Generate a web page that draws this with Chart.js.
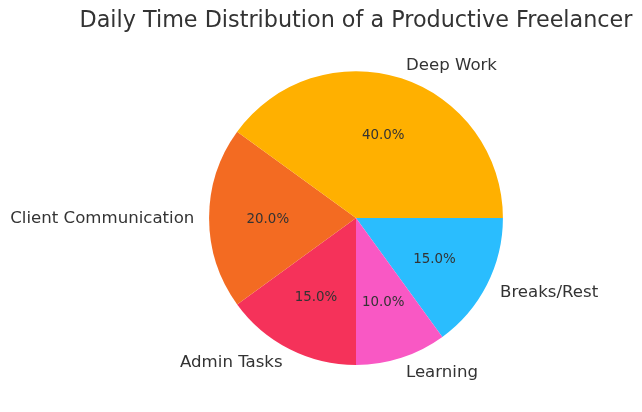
<!DOCTYPE html>
<html>
<head>
<meta charset="utf-8">
<script src="https://cdn.jsdelivr.net/npm/chart.js@4.4.0/dist/chart.umd.min.js"></script>
<style>
  html, body { margin: 0; padding: 0; background: #ffffff; }
  #wrap { width: 642px; height: 412px; }
</style>
</head>
<body>
<div id="wrap"><canvas id="c" width="642" height="412"></canvas></div>
<script>
const categories = ['Deep Work', 'Client Communication', 'Admin Tasks', 'Learning', 'Breaks/Rest'];
const hours = [40, 20, 15, 10, 15];
const colors = ['#FFB000', '#F36B22', '#F5325A', '#F958C4', '#2ABDFE'];
const titleText = 'Daily Time Distribution of a Productive Freelancer';

// matplotlib draws counter-clockwise from 3 o'clock; Chart.js draws clockwise,
// so the order is reversed and rotation starts at 3 o'clock.
const order = categories.map((_, i) => i).reverse();
const total = hours.reduce((a, b) => a + b, 0);

const labelPlugin = {
  id: 'pieLabels',
  afterDatasetsDraw(chart) {
    const ctx = chart.ctx;
    const meta = chart.getDatasetMeta(0);
    ctx.save();
    meta.data.forEach((arc, i) => {
      const p = arc.getProps(['x', 'y', 'startAngle', 'endAngle', 'outerRadius'], true);
      const mid = (p.startAngle + p.endAngle) / 2;
      const cx = Math.cos(mid), cy = Math.sin(mid);
      const idx = order[i];
      // outer category label
      ctx.font = '16.6px "DejaVu Sans"';
      ctx.fillStyle = '#333333';
      ctx.textBaseline = 'middle';
      ctx.textAlign = cx >= 0 ? 'left' : 'right';
      ctx.fillText(categories[idx], p.x + 1.1 * p.outerRadius * cx, p.y + 1.1 * p.outerRadius * cy + 1);
      // percentage
      ctx.font = '13.4px "DejaVu Sans"';
      ctx.fillStyle = '#333333';
      ctx.textAlign = 'center';
      const pct = (hours[idx] / total * 100).toFixed(1) + '%';
      ctx.fillText(pct, p.x + 0.6 * p.outerRadius * cx, p.y + 0.6 * p.outerRadius * cy + 1);
    });
    ctx.restore();
  }
};

new Chart(document.getElementById('c'), {
  type: 'pie',
  data: {
    labels: order.map(i => categories[i]),
    datasets: [{
      data: order.map(i => hours[i]),
      backgroundColor: order.map(i => colors[i]),
      borderWidth: 0,
      offset: 0,
      hoverOffset: 0
    }]
  },
  options: {
    responsive: false,
    animation: false,
    rotation: 90,
    layout: { padding: { left: 70, right: 0, top: 0, bottom: 47 } },
    plugins: {
      legend: { display: false },
      tooltip: { enabled: false },
      title: {
        display: true,
        text: titleText,
        color: '#333333',
        font: { family: '"DejaVu Sans"', size: 22.3, weight: 'normal', lineHeight: 1.2 },
        padding: { top: 8, bottom: 36.4 }
      }
    }
  },
  plugins: [labelPlugin]
});
</script>
</body>
</html>
